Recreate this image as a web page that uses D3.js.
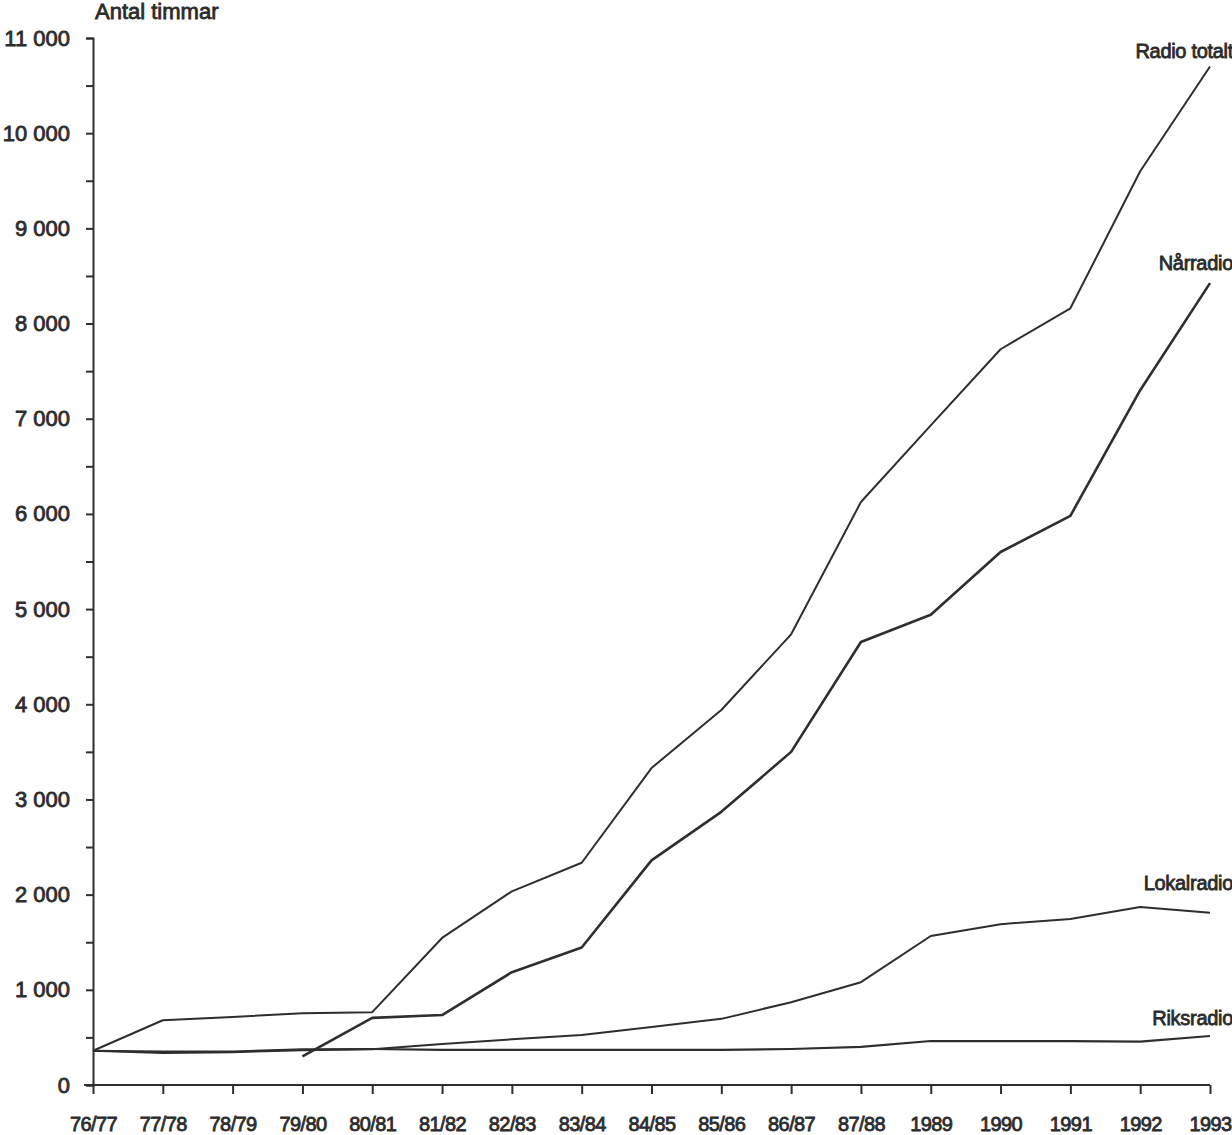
<!DOCTYPE html>
<html>
<head>
<meta charset="utf-8">
<script src="https://cdn.jsdelivr.net/npm/d3@7"></script>
<style>
  body { margin: 0; background: #fff; }
  text { font-family: "Liberation Sans", Arial, sans-serif; fill: #2b2b2b; stroke: #2b2b2b; stroke-width: 0.8px; }
</style>
</head>
<body>
<svg id="chart"></svg>
<script>
// DATA
const categories = ["76/77", "77/78", "78/79", "79/80", "80/81", "81/82", "82/83", "83/84",
  "84/85", "85/86", "86/87", "87/88", "1989", "1990", "1991", "1992", "1993"];

const radioTotalt = [360, 680, 715, 755, 765, 1545, 2035, 2335, 3330, 3940, 4735, 6125, 6930, 7730, 8160, 9600, 10700];
const narradio = [null, null, null, 300, 705, 735, 1185, 1445, 2360, 2870, 3500, 4655, 4940, 5600, 5980, 7300, 8425];
const lokalradio = [360, 335, 345, 365, 375, 430, 480, 525, 610, 695, 870, 1080, 1565, 1690, 1745, 1870, 1810];
const riksradio = [360, 350, 352, 375, 378, 370, 368, 368, 368, 368, 378, 400, 462, 462, 462, 455, 515];

const yMajorTicks = [0, 1000, 2000, 3000, 4000, 5000, 6000, 7000, 8000, 9000, 10000, 11000];
const yMinorTicks = [500, 1500, 2500, 3500, 4500, 5500, 6500, 7500, 8500, 9500, 10500];

const series = [
  { name: "Radio totalt", values: radioTotalt, width: 2, dy: -9 },
  { name: "Nårradio", values: narradio, width: 2.6, dy: -13 },
  { name: "Lokalradio", values: lokalradio, width: 2, dy: -23 },
  { name: "Riksradio", values: riksradio, width: 2.2, dy: -11 },
];

// DIMENSIONS
const dims = { width: 1232, height: 1135 };
const margin = { top: 38, right: 22, bottom: 50, left: 93 };

const svg = d3.select("#chart")
  .attr("width", dims.width)
  .attr("height", dims.height);

const x = d3.scalePoint()
  .domain(categories)
  .range([margin.left, dims.width - margin.right]);

const y = d3.scaleLinear()
  .domain([0, 11000])
  .range([dims.height - margin.bottom, margin.top]);

const ink = "#2e2e2e";

// Y AXIS
const yAxis = svg.append("g")
  .attr("transform", `translate(${margin.left},0)`)
  .call(d3.axisLeft(y)
    .tickValues(yMajorTicks.concat(yMinorTicks))
    .tickSize(7)
    .tickPadding(16)
    .tickFormat(d => yMajorTicks.includes(d) ? d3.format(",")(d).replace(",", " ") : ""));

yAxis.select(".domain").attr("stroke", ink).attr("stroke-width", 2);
yAxis.selectAll(".tick line").attr("stroke", ink).attr("stroke-width", 2);
yAxis.selectAll(".tick text")
  .attr("font-size", 22)
  .style("fill", ink);

// X AXIS
const xAxis = svg.append("g")
  .attr("transform", `translate(0,${y(0)})`)
  .call(d3.axisBottom(x).tickSize(9).tickPadding(23));

xAxis.select(".domain")
  .attr("d", `M${margin.left - 9},0H${x("1993")}`)
  .attr("stroke", ink).attr("stroke-width", 2);
xAxis.selectAll(".tick line").attr("stroke", ink).attr("stroke-width", 2);
xAxis.selectAll(".tick text")
  .attr("font-size", 20)
  .attr("letter-spacing", -0.6)
  .style("fill", ink);

// AXIS TITLE
svg.append("text")
  .attr("x", 95)
  .attr("y", 19)
  .attr("font-size", 22)
  .text("Antal timmar");

// LINES
const line = d3.line()
  .defined(d => d.v !== null)
  .x(d => x(d.c))
  .y(d => y(d.v));

series.forEach(s => {
  const pts = categories.map((c, i) => ({ c, v: s.values[i] }));
  svg.append("path")
    .datum(pts)
    .attr("fill", "none")
    .attr("stroke", ink)
    .attr("stroke-width", s.width)
    .attr("stroke-linejoin", "round")
    .attr("d", line);

  const last = pts[pts.length - 1];
  svg.append("text")
    .attr("x", dims.width + 1)
    .attr("y", y(last.v) + s.dy)
    .attr("text-anchor", "end")
    .attr("font-size", 20)
    .attr("letter-spacing", -0.3)
    .text(s.name);
});
</script>
</body>
</html>
